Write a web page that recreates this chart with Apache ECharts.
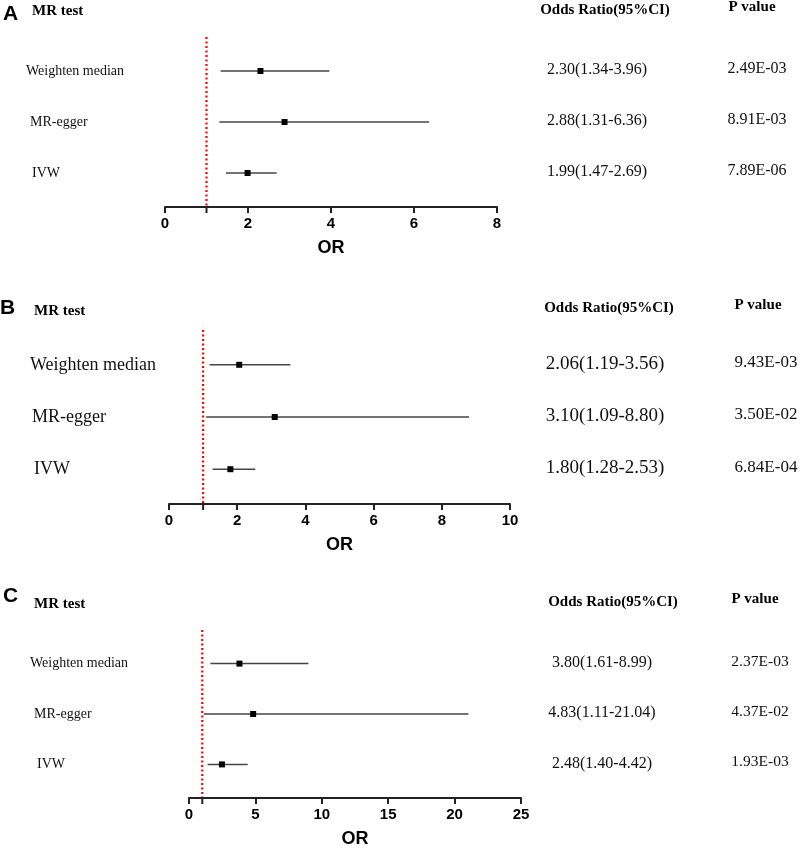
<!DOCTYPE html>
<html>
<head>
<meta charset="utf-8">
<script src="https://cdn.jsdelivr.net/npm/echarts@6/dist/echarts.min.js"></script>
<style>
  html, body { margin: 0; padding: 0; background: #fff; }
  #main { width: 803px; height: 849px; }
</style>
</head>
<body>
<div id="main"></div>
<script>
// rows, top to bottom
var rowNames = ['Weighten median', 'MR-egger', 'IVW'];
var rowPos = [3, 2, 1];
var refOR = 1;

// panel A
var orA = [2.30, 2.88, 1.99];
var lowA = [1.34, 1.31, 1.47];
var highA = [3.96, 6.36, 2.69];
var pA = ['2.49E-03', '8.91E-03', '7.89E-06'];

// panel B
var orB = [2.06, 3.10, 1.80];
var lowB = [1.19, 1.09, 1.28];
var highB = [3.56, 8.80, 2.53];
var pB = ['9.43E-03', '3.50E-02', '6.84E-04'];

// panel C
var orC = [3.80, 4.83, 2.48];
var lowC = [1.61, 1.11, 1.40];
var highC = [8.99, 21.04, 4.42];
var pC = ['2.37E-03', '4.37E-02', '1.93E-03'];

var axisMax = [8, 10, 25];
var axisStep = [2, 2, 5];

var serif = '"Liberation Serif", "Times New Roman", serif';
var sans = '"Liberation Sans", Arial, sans-serif';

var chart = echarts.init(document.getElementById('main'));

// layout of each panel
var panels = [
  { letter: 'A', or: orA, low: lowA, high: highA, p: pA,
    grid: { left: 165, width: 332, top: 37, height: 170 },
    labelX: [26, 30, 32], labelSize: 14, orX: 597, pX: 757, valSize: 16, pSize: 16,
    headY: 10, letterY: 13, orHeadX: 605, pHeadX: 752 },
  { letter: 'B', or: orB, low: lowB, high: highB, p: pB,
    grid: { left: 169, width: 341, top: 330, height: 174 },
    labelX: [30, 32, 34], labelSize: 18, orX: 605, pX: 766, valSize: 19, pSize: 17,
    headY: 308, letterY: 307, orHeadX: 609, pHeadX: 758 },
  { letter: 'C', or: orC, low: lowC, high: highC, p: pC,
    grid: { left: 189, width: 332, top: 630, height: 170 },
    labelX: [30, 34, 37], labelSize: 14, orX: 602, pX: 760, valSize: 16, pSize: 15.5,
    headY: 602, letterY: 595, orHeadX: 613, pHeadX: 755 }
];

function fmt(v) { return v.toFixed(2); }

var grids = [], xAxes = [], yAxes = [], series = [], graphics = [];

panels.forEach(function (pn, k) {
  grids.push(pn.grid);
  xAxes.push({
    gridIndex: k, type: 'value', min: 0, max: axisMax[k], interval: axisStep[k],
    axisLine: { show: true, onZero: false, lineStyle: { color: '#222', width: 2 } },
    axisTick: { show: true, length: 6, lineStyle: { color: '#222', width: 2 } },
    axisLabel: { color: '#000', fontFamily: sans, fontWeight: 'bold', fontSize: 15, margin: 9 },
    splitLine: { show: false },
    name: 'OR', nameLocation: 'middle', nameGap: 32,
    nameTextStyle: { color: '#000', fontFamily: sans, fontWeight: 'bold', fontSize: 18 }
  });
  yAxes.push({ gridIndex: k, type: 'value', min: 1 / 3, max: 11 / 3, show: false });

  var rows = rowNames.map(function (name, i) {
    return [pn.or[i], rowPos[i], pn.low[i], pn.high[i], i];
  });

  series.push({
    type: 'custom', xAxisIndex: k, yAxisIndex: k, silent: true,
    encode: { x: [0, 2, 3], y: 1 },
    data: rows,
    renderItem: function (params, api) {
      var i = api.value(4);
      var y = api.value(1);
      var lo = api.coord([api.value(2), y]);
      var hi = api.coord([api.value(3), y]);
      var mid = api.coord([api.value(0), y]);
      return {
        type: 'group',
        children: [
          { type: 'line', shape: { x1: lo[0], y1: lo[1], x2: hi[0], y2: hi[1] },
            style: { stroke: '#444', lineWidth: 1.5 } },
          { type: 'rect', shape: { x: mid[0] - 3, y: mid[1] - 3, width: 6, height: 6 },
            style: { fill: '#000' } },
          { type: 'text', x: pn.labelX[i], y: mid[1],
            style: { text: rowNames[i], font: pn.labelSize + 'px ' + serif, fill: '#111',
                     align: 'left', verticalAlign: 'middle' } },
          { type: 'text', x: pn.orX, y: mid[1] - 1,
            style: { text: fmt(pn.or[i]) + '(' + fmt(pn.low[i]) + '-' + fmt(pn.high[i]) + ')',
                     font: pn.valSize + 'px ' + serif, fill: '#111',
                     align: 'center', verticalAlign: 'middle' } },
          { type: 'text', x: pn.pX, y: mid[1] - 2,
            style: { text: pn.p[i], font: pn.pSize + 'px ' + serif, fill: '#111',
                     align: 'center', verticalAlign: 'middle' } }
        ]
      };
    }
  });

  // reference line at OR = 1 plus its tick
  series.push({
    type: 'custom', xAxisIndex: k, yAxisIndex: k, silent: true,
    data: [[refOR]],
    renderItem: function (params, api) {
      var bottom = api.coord([api.value(0), 1 / 3]);
      var top = api.coord([api.value(0), 11 / 3]);
      return {
        type: 'group',
        children: [
          { type: 'line', shape: { x1: bottom[0], y1: bottom[1], x2: bottom[0], y2: bottom[1] + 6 },
            style: { stroke: '#222', lineWidth: 2 } },
          { type: 'line', shape: { x1: top[0], y1: top[1], x2: bottom[0], y2: bottom[1] - 1 },
            style: { stroke: '#ff0000', lineWidth: 2.2, lineDash: [2, 2.5] } }
        ]
      };
    }
  });

  graphics.push(
    { type: 'text', left: k === 1 ? 0 : 3, top: pn.letterY - 9,
      style: { text: pn.letter, font: 'bold 21px ' + sans, fill: '#000' } },
    { type: 'text', x: 32 + (k ? 2 : 0), y: pn.headY + (k === 0 ? 1 : k === 1 ? 3 : 2),
      style: { text: 'MR test', font: 'bold 15px ' + serif, fill: '#000', verticalAlign: 'middle' } },
    { type: 'text', x: pn.orHeadX, y: pn.headY,
      style: { text: 'Odds Ratio(95%CI)', font: 'bold 15px ' + serif, fill: '#000',
               align: 'center', verticalAlign: 'middle' } },
    { type: 'text', x: pn.pHeadX, y: pn.headY - 3,
      style: { text: 'P value', font: 'bold 15px ' + serif, fill: '#000',
               align: 'center', verticalAlign: 'middle' } }
  );
});

chart.setOption({
  animation: false,
  backgroundColor: '#fff',
  grid: grids,
  xAxis: xAxes,
  yAxis: yAxes,
  series: series,
  graphic: graphics
});
</script>
</body>
</html>
